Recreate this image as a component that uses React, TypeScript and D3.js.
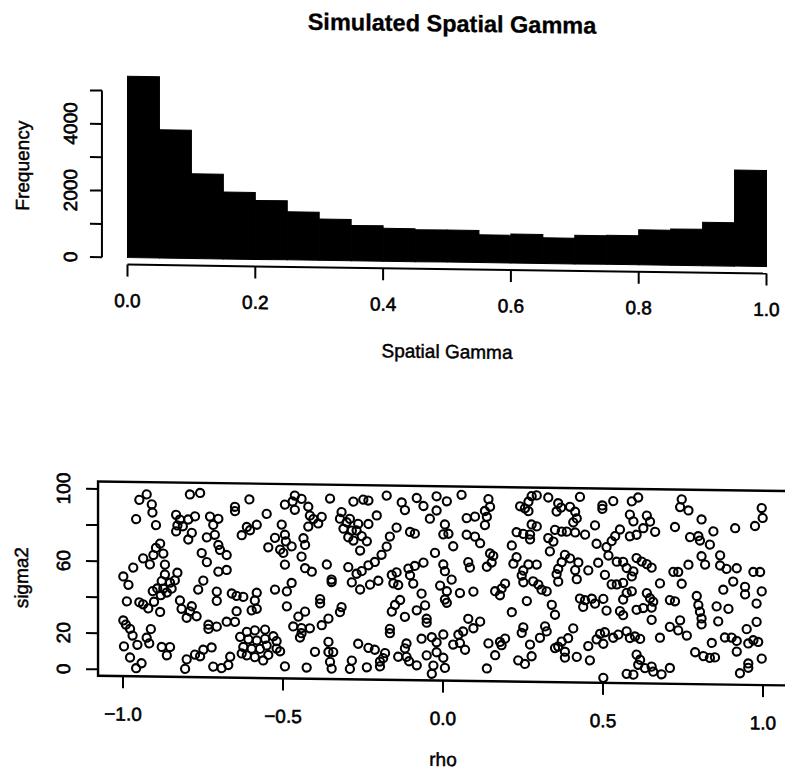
import React from "react";
import * as d3 from "d3";

// Histogram of simulated spatial gamma
const gammaBreaks = [0, 0.05, 0.1, 0.15, 0.2, 0.25, 0.3, 0.35, 0.4, 0.45, 0.5, 0.55, 0.6, 0.65, 0.7, 0.75, 0.8, 0.85, 0.9, 0.95, 1.0];
const gammaFrequency = [5440, 3850, 2540, 2010, 1770, 1440, 1240, 1060, 990, 960, 960, 830, 870, 770, 860, 870, 1050, 1090, 1300, 2880];
const gammaTicks = [0, 0.2, 0.4, 0.6, 0.8, 1.0];
const freqTicks = [0, 1000, 2000, 3000, 4000, 5000];
const freqLabels = [0, 2000, 4000];

// Scatter of (rho, sigma2) draws
const rhoTicks = [-1, -0.5, 0, 0.5, 1];
const sigmaTicks = [0, 20, 40, 60, 80, 100];
const sigmaLabels = [0, 20, 60, 100];

const draws: [number, number][] = [
  [-0.926,97.4],[-0.949,94.3],[-0.910,91.9],[-0.908,87.4],[-0.959,83.6],[-0.897,80.4],[-0.834,86.3],[-0.822,83.7],[-0.830,80.4],[-0.813,80.0],[-0.834,77.1],
  [-0.884,70.2],[-0.897,67.8],[-0.874,64.7],[-0.905,63.8],[-0.937,61.9],[-0.916,58.6],[-0.869,58.6],[-0.968,56.7],[-0.869,53.1],[-0.999,51.7],[-0.983,47.1],
  [-0.830,54.2],[-0.838,49.9],[-0.853,48.6],[-0.879,49.4],[-0.874,45.3],[-0.893,45.3],[-0.907,43.8],[-0.848,45.3],[-0.863,43.1],[-0.882,41.6],
  [-0.988,37.9],[-0.949,37.5],[-0.937,36.4],[-0.921,34.2],[-0.903,37.9],[-0.884,32.3],[-0.822,38.8],[-0.817,34.2],
  [-0.999,27.3],[-0.991,25.0],[-0.978,22.7],[-0.970,19.0],[-0.913,22.7],[-0.926,17.9],[-0.918,14.8],[-0.955,13.9],[-0.997,12.9],[-0.978,6.8],[-0.879,12.9],[-0.853,12.9],[-0.863,8.3],[-0.942,3.7],[-0.959,0.9],[-0.806,0.9],
  [-0.791,97.7],[-0.759,98.6],[-0.605,95.4],[-0.650,91.2],[-0.650,88.8],[-0.551,87.5],[-0.775,85.6],[-0.796,83.8],[-0.728,85.6],[-0.702,84.4],[-0.718,81.0],
  [-0.582,81.4],[-0.613,80.1],[-0.629,75.5],[-0.603,78.3],[-0.785,76.4],[-0.796,72.7],[-0.738,74.0],[-0.713,75.5],[-0.702,69.9],[-0.697,67.2],[-0.546,69.0],
  [-0.754,65.3],[-0.738,60.3],[-0.676,64.4],[-0.702,55.1],[-0.676,56.1],[-0.749,50.0],[-0.765,45.0],[-0.707,44.0],[-0.707,38.9],[-0.660,43.1],[-0.645,41.8],[-0.624,41.3],[-0.582,43.7],[-0.588,39.4],
  [-0.785,35.7],[-0.791,32.9],[-0.770,30.2],[-0.801,29.3],[-0.645,33.3],[-0.598,33.9],[-0.582,34.8],
  [-0.733,25.6],[-0.733,23.3],[-0.707,24.6],[-0.676,27.4],[-0.650,27.4],[-0.634,19.1],[-0.613,21.9],[-0.588,22.8],[-0.556,23.3],[-0.608,17.8],[-0.582,17.2],[-0.556,18.2],[-0.624,13.5],[-0.598,12.6],[-0.572,12.6],[-0.551,14.5],[-0.629,9.9],[-0.613,8.9],[-0.588,8.0],[-0.562,6.2],[-0.546,9.3],
  [-0.723,13.0],[-0.749,11.7],[-0.775,8.9],[-0.759,8.0],[-0.801,6.2],[-0.718,2.4],[-0.692,1.6],[-0.671,3.4],[-0.665,8.0],
  [-0.463,97.9],[-0.442,96.1],[-0.470,94.6],[-0.494,92.8],[-0.463,90.0],[-0.421,91.8],[-0.353,96.5],[-0.280,95.0],[-0.416,86.9],[-0.405,85.0],[-0.379,86.3],[-0.390,82.6],
  [-0.317,89.1],[-0.322,85.4],[-0.301,83.5],[-0.291,85.4],[-0.311,79.9],[-0.285,78.9],[-0.296,75.2],[-0.280,73.4],[-0.504,81.7],[-0.421,80.8],
  [-0.525,74.3],[-0.494,76.1],[-0.491,72.4],[-0.509,67.8],[-0.499,66.0],[-0.473,69.7],[-0.436,74.3],[-0.431,70.6],[-0.442,64.1],[-0.494,59.5],[-0.431,57.7],[-0.410,55.8],[-0.363,59.9],[-0.296,58.6],
  [-0.348,50.2],[-0.348,51.6],[-0.285,50.2],[-0.525,45.6],[-0.488,44.7],[-0.473,49.4],[-0.384,40.7],[-0.384,38.3],[-0.317,36.4],[-0.322,33.6],[-0.488,36.4],[-0.431,33.6],[-0.452,30.8],
  [-0.468,25.3],[-0.442,24.4],[-0.442,21.6],[-0.447,19.2],[-0.416,24.4],[-0.379,26.2],[-0.358,29.9],[-0.530,19.7],[-0.520,17.0],[-0.509,11.4],[-0.520,12.9],
  [-0.358,17.0],[-0.358,11.4],[-0.343,11.4],[-0.353,5.9],[-0.348,2.2],[-0.400,11.4],[-0.494,3.1],[-0.426,2.6],[-0.285,6.8],[-0.291,2.2],
  [-0.249,96.2],[-0.233,95.7],[-0.176,98.6],[-0.129,94.9],[-0.119,90.7],[-0.082,97.5],[-0.061,93.1],[-0.020,98.6],[-0.020,90.7],[-0.041,86.1],
  [-0.207,87.5],[-0.233,82.7],[-0.265,82.7],[-0.270,79.0],[-0.254,75.9],[-0.238,73.1],[-0.259,67.9],[-0.145,80.9],[-0.166,75.9],[-0.176,70.3],[-0.192,65.7],[-0.103,78.6],[-0.088,77.7],[-0.025,67.2],
  [-0.213,61.7],[-0.233,59.8],[-0.254,56.5],[-0.270,55.0],[-0.259,46.3],[-0.228,49.1],[-0.202,51.3],[-0.160,54.6],[-0.145,56.1],[-0.155,50.0],[-0.140,49.1],[-0.108,58.3],[-0.088,59.8],[-0.061,61.7],[-0.103,54.6],[-0.093,50.0],[-0.067,44.5],[-0.009,49.1],
  [-0.134,40.8],[-0.150,38.0],[-0.160,34.3],[-0.119,31.5],[-0.082,35.2],[-0.056,38.0],[-0.051,30.6],[-0.051,28.4],[-0.166,24.7],[-0.166,22.3],
  [-0.265,16.2],[-0.233,14.0],[-0.213,13.0],[-0.181,11.2],[-0.187,8.4],[-0.197,6.5],[-0.197,3.8],[-0.238,3.2],
  [-0.140,9.3],[-0.119,14.0],[-0.114,16.7],[-0.114,9.3],[-0.106,6.9],[-0.082,4.7],[-0.051,10.3],[-0.030,4.7],[-0.035,0.1],[-0.067,19.5],[-0.035,20.4],[-0.020,17.6],[-0.020,12.1],
  [0.012,95.9],[0.058,99.6],[0.142,97.4],[0.147,93.2],[0.131,90.8],[0.137,87.6],[0.131,83.0],[0.074,86.7],[0.100,87.6],[0.241,93.7],[0.256,92.6],
  [0.006,83.0],[0.001,77.5],[0.017,77.9],[0.032,71.0],[0.074,77.5],[0.100,76.5],[0.116,72.9],[0.147,67.3],[0.157,66.0],[0.152,62.3],[0.137,59.9],[0.079,62.3],[0.084,59.3],
  [0.215,71.9],[0.230,79.3],[0.251,78.4],[0.230,65.4],[0.220,61.8],[0.251,58.1],[0.246,55.3],[0.251,51.6],
  [0.001,60.8],[0.006,57.1],[0.027,52.5],[0.012,46.0],[0.006,41.4],[0.012,39.6],[0.053,45.1],[0.095,46.0],[0.163,46.4],[0.183,47.9],[0.194,50.7],[0.178,44.2],[0.215,34.9],
  [0.079,30.9],[0.116,29.4],[0.095,25.7],[0.063,23.8],[0.048,22.0],[0.032,16.5],[0.053,17.4],[0.069,13.7],[0.001,22.0],
  [0.142,17.4],[0.178,18.3],[0.194,20.2],[0.183,16.5],[0.163,10.9],[0.251,26.6],[0.246,23.5],[0.001,9.1],[0.006,3.5],[0.137,3.5],[0.235,8.2],[0.256,6.3],
  [0.277,99.4],[0.293,99.9],[0.267,96.3],[0.329,98.8],[0.360,95.7],[0.355,91.1],[0.369,93.3],[0.428,99.4],[0.397,93.8],[0.413,91.1],[0.418,87.4],[0.407,85.2],[0.498,92.9],[0.498,94.8],[0.475,83.7],
  [0.267,91.1],[0.277,83.7],[0.293,82.7],[0.272,78.1],[0.272,75.4],[0.350,80.9],[0.371,80.0],[0.387,80.0],[0.413,79.6],[0.444,78.5],[0.329,76.3],[0.345,74.4],[0.334,68.9],
  [0.480,73.5],[0.511,71.7],[0.517,67.1],[0.381,67.1],[0.371,63.0],[0.397,65.2],[0.423,63.0],[0.413,58.7],[0.360,59.3],[0.355,56.3],[0.360,52.2],[0.418,53.7],[0.454,58.7],[0.485,63.0],[0.506,56.3],
  [0.267,61.5],[0.293,61.5],[0.282,52.2],[0.298,50.4],[0.308,47.6],[0.324,46.7],[0.262,41.2],[0.340,39.3],[0.350,33.8],
  [0.428,43.0],[0.444,42.1],[0.465,43.0],[0.438,38.4],[0.475,40.3],[0.501,43.0],[0.511,36.5],
  [0.272,17.1],[0.319,27.3],[0.324,24.5],[0.303,20.9],[0.407,26.4],[0.391,20.9],[0.371,19.0],[0.360,16.2],[0.350,15.3],[0.381,13.4],[0.381,10.1],[0.418,10.6],
  [0.454,16.7],[0.480,20.5],[0.491,23.6],[0.506,24.5],[0.501,18.1],[0.277,10.6],[0.459,8.8],[0.501,-0.8],
  [0.532,97.3],[0.590,97.3],[0.610,99.5],[0.746,98.8],[0.741,94.5],[0.767,92.7],[0.584,89.9],[0.595,86.2],[0.637,89.5],[0.647,86.2],[0.626,82.5],[0.663,80.6],[0.725,83.4],[0.772,77.9],
  [0.553,81.6],[0.538,77.9],[0.527,75.1],[0.584,77.9],[0.605,78.8],
  [0.543,63.7],[0.563,63.7],[0.574,60.3],[0.595,58.5],[0.590,55.7],[0.605,65.9],[0.621,64.0],[0.637,62.6],[0.652,60.7],[0.720,58.5],[0.735,58.5],[0.767,62.6],
  [0.678,52.0],[0.746,52.0],[0.527,51.1],[0.543,51.1],[0.563,52.0],[0.574,46.5],[0.590,47.4],[0.563,42.8],[0.637,46.5],[0.647,43.7],[0.657,41.8],[0.652,38.5],[0.709,42.8],[0.725,42.2],
  [0.553,36.3],[0.563,34.1],[0.605,37.2],[0.626,38.2],[0.652,31.7],[0.741,31.7],[0.709,28.0],[0.735,26.1],[0.762,23.3],[0.678,21.9],[0.788,14.1],
  [0.532,21.5],[0.548,23.3],[0.574,25.2],[0.584,21.5],[0.600,22.4],[0.616,21.1],[0.605,12.3],[0.616,9.5],[0.610,6.7],[0.574,1.6],[0.595,1.2],[0.631,4.9],[0.652,5.8],[0.657,3.0],[0.683,1.6],[0.709,5.2],
  [0.996,94.6],[0.999,89.1],[0.975,84.6],[0.913,83.2],[0.808,87.8],[0.845,81.3],[0.834,73.9],[0.798,78.5],[0.803,76.1],
  [0.808,67.4],[0.819,62.8],[0.866,68.0],[0.866,62.4],[0.886,60.6],[0.918,61.0],[0.970,59.1],[0.991,59.1],
  [0.907,53.6],[0.876,49.0],[0.944,50.8],[0.944,46.6],[0.996,48.4],[0.793,45.3],[0.798,40.3],[0.803,36.6],[0.808,32.9],[0.808,29.6],[0.855,39.7],[0.892,38.4],[0.860,31.4],[0.980,41.6],[0.980,31.4],[0.949,27.3],
  [0.881,22.5],[0.902,22.5],[0.918,20.7],[0.954,19.4],[0.970,21.2],[0.985,20.3],[0.918,14.8],[0.840,19.4],[0.814,12.0],[0.834,11.1],[0.850,11.4],[0.954,8.3],[0.954,5.9],[0.928,2.8],[0.996,11.1],
];

const FONT = "'Liberation Sans', Arial, Helvetica, sans-serif";
const W = 785;
const H = 774;
const TICK = 12;

export default function App() {
  // histogram panel
  const hx = d3.scaleLinear().domain([0, 1]).range([127.5, 766.5]);
  const hy = d3.scaleLinear().domain([0, 5000]).range([262, 95.3]);
  const hAxisX = hx(-0.04);
  const hAxisY = 269;

  // scatter panel
  const sx = d3.scaleLinear().domain([-1, 1]).range([123, 763]);
  const sy = d3.scaleLinear().domain([0, 100]).range([674.1, 493.8]);
  const boxLeft = sx(-1.078);
  const boxRight = sx(1.078);
  const boxTop = sy(104.2);
  const boxBottom = sy(-3.6);

  const fmt = d3.format(".1f");
  const labelStyle = { fontFamily: FONT, fontSize: 19, fill: "#000", stroke: "#000", strokeWidth: 0.6 } as const;
  const titleStyle = { ...labelStyle, strokeWidth: 0.45 };

  return (
    <svg
      width={W}
      height={H}
      viewBox={`0 0 ${W} ${H}`}
      style={{ position: "absolute", left: 0, top: 0, display: "block", background: "#fff" }}
    >
      <rect x={0} y={0} width={W} height={H} fill="#fff" />
      <g transform="translate(0,-6.16) skewY(0.802)">
        {/* title */}
        <text x={452} y={31.5} textAnchor="middle" style={{ fontFamily: FONT, fontSize: 23.5, fontWeight: "bold", stroke: "#000", strokeWidth: 0.3 }}>
          Simulated Spatial Gamma
        </text>

        {/* histogram bars */}
        {gammaFrequency.map((f, i) => (
          <rect
            key={`bar-${i}`}
            x={hx(gammaBreaks[i])}
            y={hy(f)}
            width={hx(gammaBreaks[i + 1]) - hx(gammaBreaks[i])}
            height={hy(0) - hy(f)}
            fill="#000"
            stroke="#000"
            strokeWidth={1}
          />
        ))}

        {/* histogram x axis */}
        <line x1={hx(0)} x2={hx(1)} y1={hAxisY} y2={hAxisY} stroke="#000" strokeWidth={2} />
        {gammaTicks.map((t) => (
          <g key={`gx-${t}`}>
            <line x1={hx(t)} x2={hx(t)} y1={hAxisY} y2={hAxisY + TICK} stroke="#000" strokeWidth={2} />
            <text x={hx(t)} y={311.5} textAnchor="middle" style={labelStyle}>
              {fmt(t)}
            </text>
          </g>
        ))}
        <text x={447} y={358} textAnchor="middle" style={titleStyle}>
          Spatial Gamma
        </text>

        {/* histogram y axis */}
        <line x1={hAxisX} x2={hAxisX} y1={hy(0)} y2={hy(5000)} stroke="#000" strokeWidth={2} />
        {freqTicks.map((t) => (
          <line key={`gy-${t}`} x1={hAxisX - TICK} x2={hAxisX} y1={hy(t)} y2={hy(t)} stroke="#000" strokeWidth={2} />
        ))}
        {freqLabels.map((t) => (
          <text key={`gyl-${t}`} transform={`translate(${hAxisX - 24.5},${hy(t)}) rotate(-90)`} textAnchor="middle" style={labelStyle}>
            {t}
          </text>
        ))}
        <text transform={`translate(29,171.5) rotate(-90)`} textAnchor="middle" style={titleStyle}>
          Frequency
        </text>

        {/* scatter frame */}
        <rect
          x={boxLeft}
          y={boxTop}
          width={boxRight - boxLeft}
          height={boxBottom - boxTop}
          fill="none"
          stroke="#000"
          strokeWidth={2.4}
        />

        {/* scatter points */}
        {draws.map(([r, s], i) => (
          <circle key={`p-${i}`} cx={sx(r)} cy={sy(s)} r={4.1} fill="none" stroke="#000" strokeWidth={2.1} />
        ))}

        {/* scatter x axis */}
        {rhoTicks.map((t) => (
          <g key={`sx-${t}`}>
            <line x1={sx(t)} x2={sx(t)} y1={boxBottom} y2={boxBottom + TICK} stroke="#000" strokeWidth={2} />
            <text x={sx(t)} y={725} textAnchor="middle" style={labelStyle}>
              {t < 0 ? `\u2212${fmt(-t)}` : fmt(t)}
            </text>
          </g>
        ))}
        <text x={443} y={766} textAnchor="middle" style={titleStyle}>
          rho
        </text>

        {/* scatter y axis */}
        {sigmaTicks.map((t) => (
          <line key={`sy-${t}`} x1={boxLeft - TICK} x2={boxLeft} y1={sy(t)} y2={sy(t)} stroke="#000" strokeWidth={2} />
        ))}
        {sigmaLabels.map((t) => (
          <text key={`syl-${t}`} transform={`translate(70,${sy(t)}) rotate(-90)`} textAnchor="middle" style={labelStyle}>
            {t}
          </text>
        ))}
        <text transform={`translate(28,583.5) rotate(-90)`} textAnchor="middle" style={titleStyle}>
          sigma2
        </text>
      </g>
    </svg>
  );
}
